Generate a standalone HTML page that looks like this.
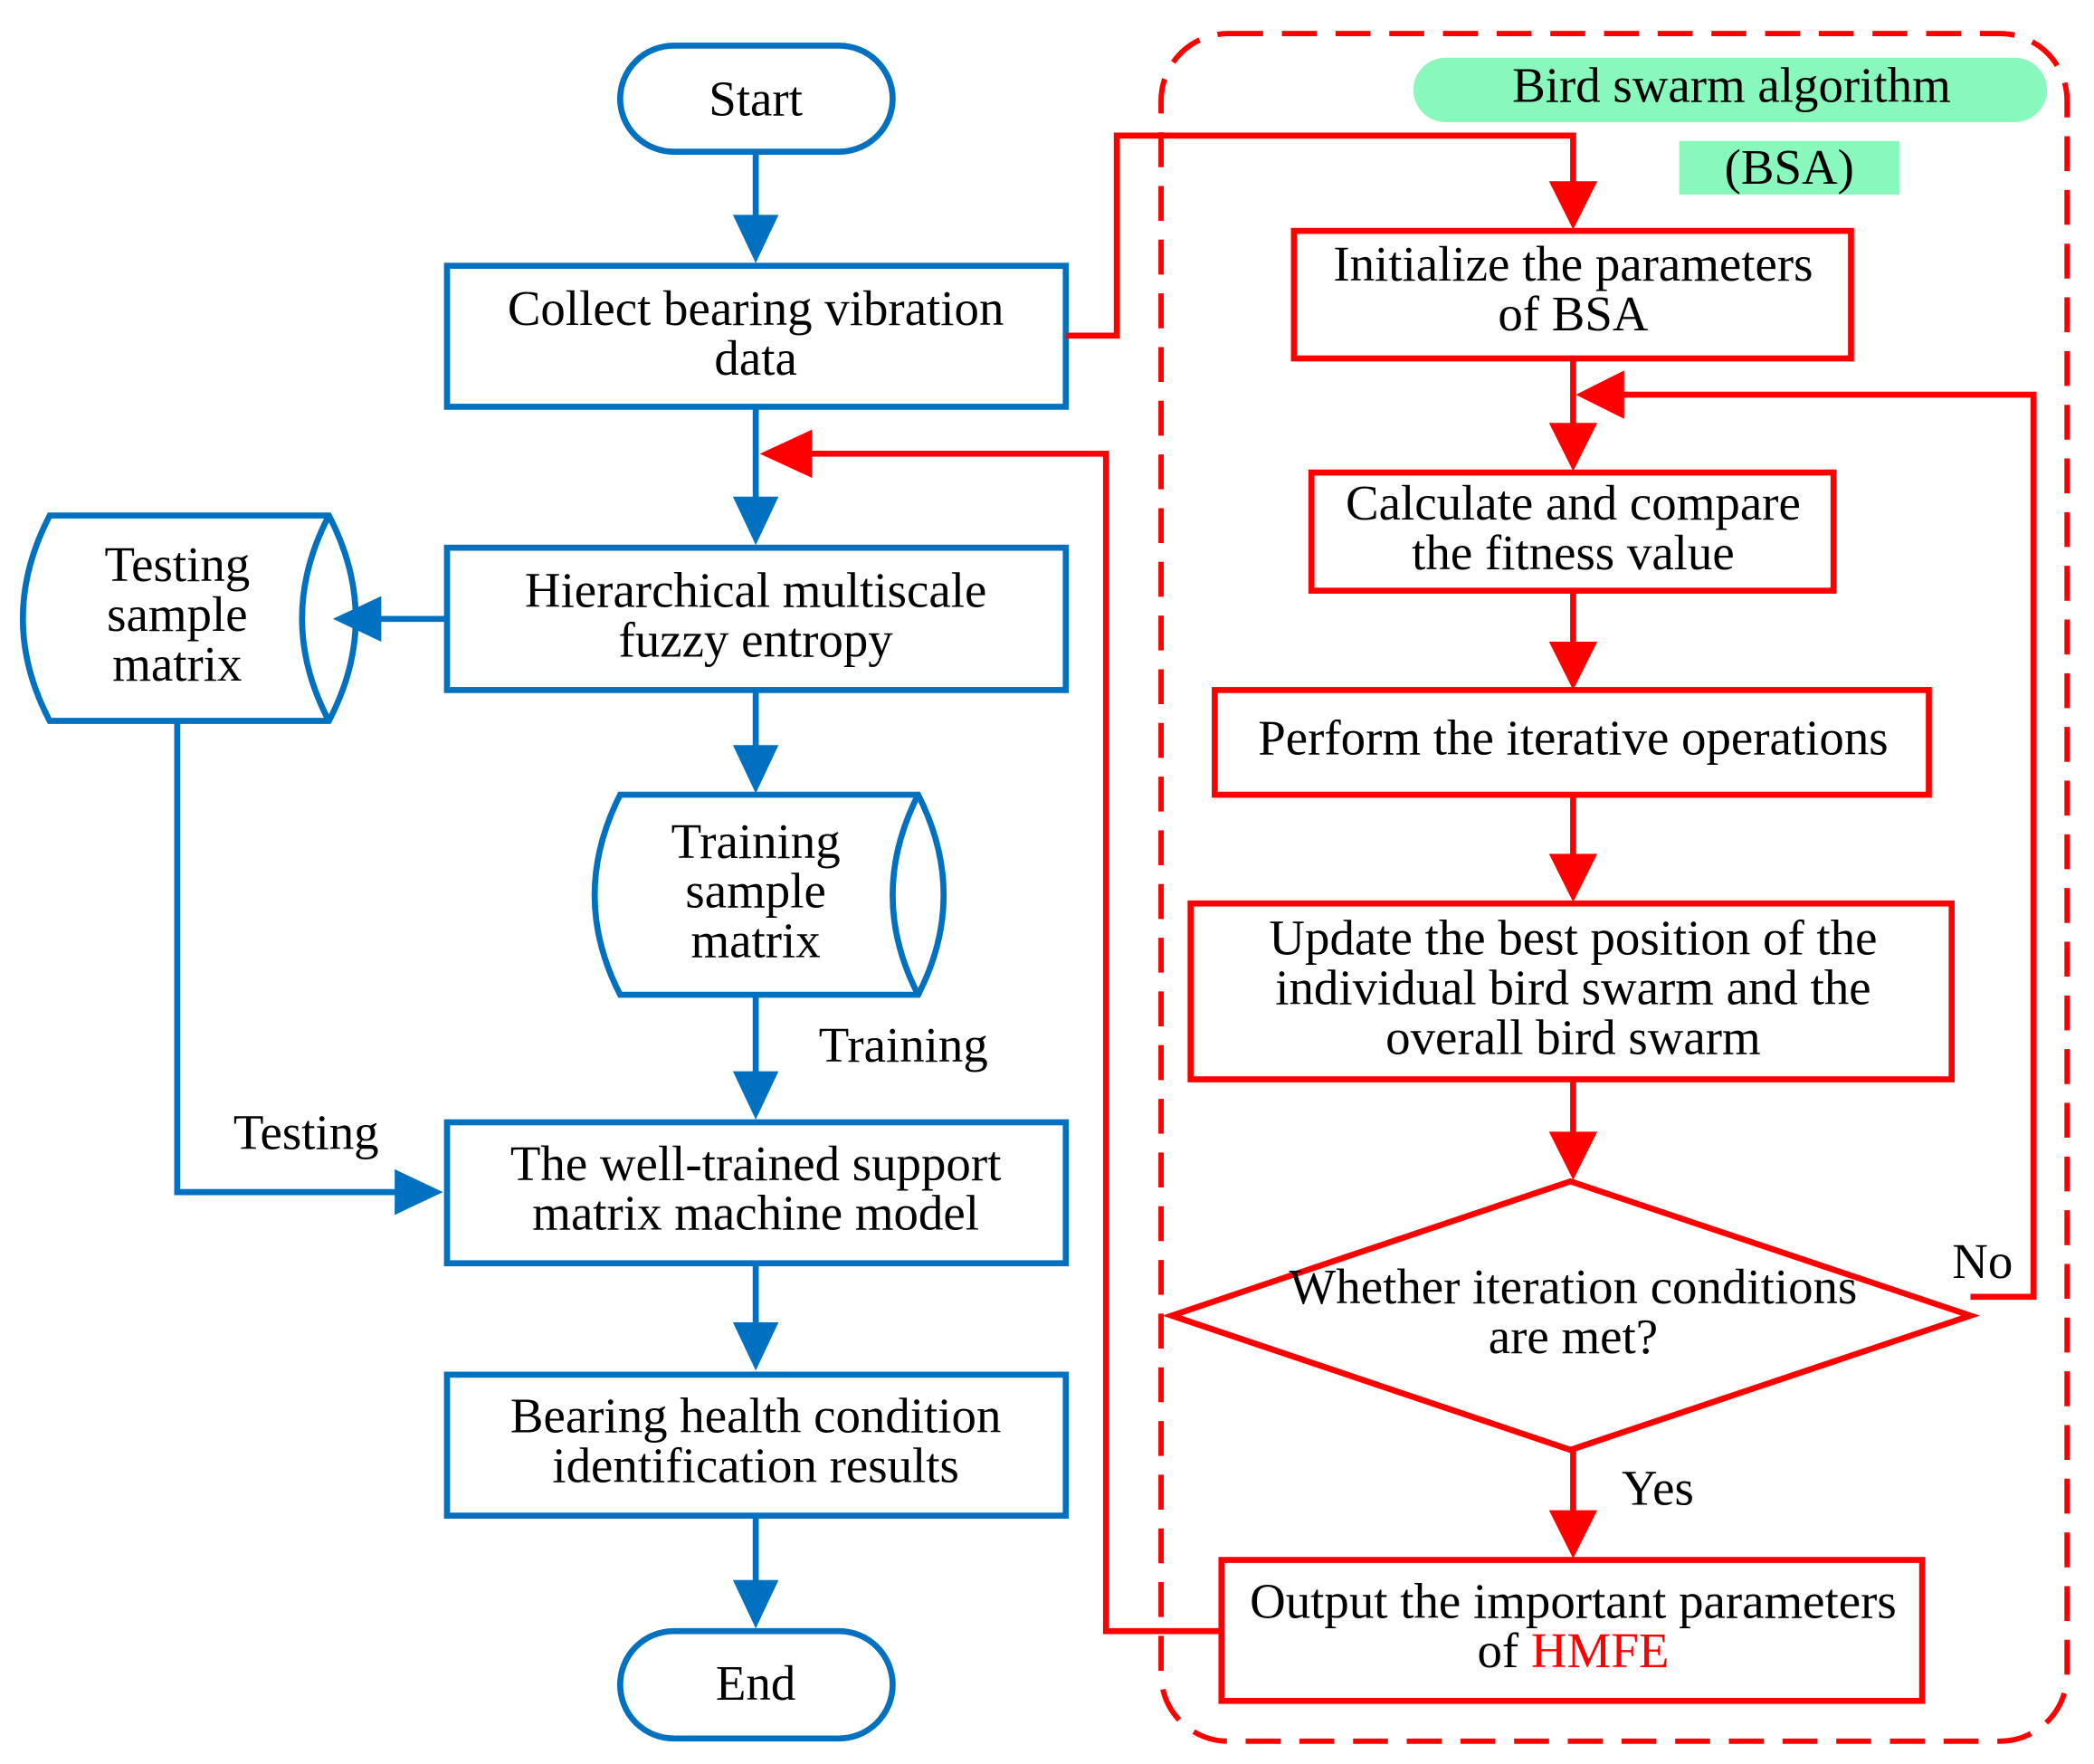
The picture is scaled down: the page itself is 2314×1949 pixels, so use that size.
<!DOCTYPE html>
<html><head><meta charset="utf-8"><style>
html,body{margin:0;padding:0;background:#fff}
svg{display:block}
text{font-family:"Liberation Serif",serif;font-size:37px;fill:#000;text-anchor:middle}
</style></head><body>
<svg width="2314" height="1949" viewBox="0 0 1560 1314" xmlns="http://www.w3.org/2000/svg">
<g fill="none" stroke="#0070C0" stroke-width="4.5">
<rect x="462" y="34" width="203" height="79" rx="40"/>
<rect x="333" y="198" width="461" height="105"/>
<rect x="333" y="408" width="461" height="106"/>
<rect x="333" y="836" width="461" height="105"/>
<rect x="333" y="1024" width="461" height="105"/>
<rect x="462" y="1215" width="203" height="80" rx="40"/>
<path d="M37,384 L245,384 Q285,461 245,537 L37,537 Q-3,461 37,384 Z M245,384 Q205,461 245,537"/>
<path d="M462,592 L684,592 Q722,667 684,741 L462,741 Q424,667 462,592 Z M684,592 Q646,667 684,741"/>
<path d="M563,113 V165 M563,303 V375 M333,461 H280 M563,514 V560 M563,741 V803 M132,537 V888 H298 M563,941 V990 M563,1129 V1182"/>
</g>
<g fill="#0070C0">
<path d="M546,160 L580,160 L563,196 Z"/>
<path d="M546,370 L580,370 L563,406 Z"/>
<path d="M284,444 L284,478 L248,461 Z"/>
<path d="M546,555 L580,555 L563,591 Z"/>
<path d="M546,798 L580,798 L563,834 Z"/>
<path d="M294,871 L294,905 L330,888 Z"/>
<path d="M546,985 L580,985 L563,1021 Z"/>
<path d="M546,1177 L580,1177 L563,1213 Z"/>
</g>
<rect x="865" y="25" width="675" height="1272" rx="50" fill="none" stroke="#FF0000" stroke-width="4" stroke-dasharray="26,14"/>
<rect x="1053" y="43" width="472" height="48" rx="24" fill="#88F8BC"/>
<rect x="1251" y="105" width="164" height="40" fill="#88F8BC"/>
<g fill="none" stroke="#FF0000" stroke-width="4.5">
<rect x="964" y="172" width="415" height="95"/>
<rect x="977" y="352" width="389" height="88"/>
<rect x="905" y="514" width="532" height="78"/>
<rect x="887" y="673" width="567" height="131"/>
<path d="M1170,880 L1468,980 L1170,1080 L873,980 Z"/>
<rect x="910" y="1162" width="522" height="105"/>
<path d="M794,250 H832 V101 H1172 V140 M1172,267 V320 M1468,966 H1515 V294 H1205 M1172,440 V483 M1172,592 V641 M1172,804 V848 M1172,1080 V1130 M910,1215 H824 V338 H600"/>
</g>
<g fill="#FF0000">
<path d="M1154,135 L1190,135 L1172,171 Z"/>
<path d="M1154,315 L1190,315 L1172,351 Z"/>
<path d="M1210,276 L1210,312 L1174,294 Z"/>
<path d="M1154,478 L1190,478 L1172,514 Z"/>
<path d="M1154,636 L1190,636 L1172,672 Z"/>
<path d="M1154,843 L1190,843 L1172,879 Z"/>
<path d="M1154,1125 L1190,1125 L1172,1161 Z"/>
<path d="M605,320 L605,356 L566,338 Z"/>
</g>
<text x="563" y="86">Start</text>
<text x="563" y="242">Collect bearing vibration</text>
<text x="563" y="279">data</text>
<text x="563" y="452">Hierarchical multiscale</text>
<text x="563" y="489">fuzzy entropy</text>
<text x="132" y="433">Testing</text>
<text x="132" y="470">sample</text>
<text x="132" y="507">matrix</text>
<text x="563" y="639">Training</text>
<text x="563" y="676">sample</text>
<text x="563" y="713">matrix</text>
<text x="673" y="791">Training</text>
<text x="228" y="856">Testing</text>
<text x="563" y="879">The well-trained support</text>
<text x="563" y="916">matrix machine model</text>
<text x="563" y="1067">Bearing health condition</text>
<text x="563" y="1104">identification results</text>
<text x="563" y="1266">End</text>
<text x="1290" y="76">Bird swarm algorithm</text>
<text x="1333" y="137">(BSA)</text>
<text x="1172" y="209">Initialize the parameters</text>
<text x="1172" y="246">of BSA</text>
<text x="1172" y="387">Calculate and compare</text>
<text x="1172" y="424">the fitness value</text>
<text x="1172" y="562">Perform the iterative operations</text>
<text x="1172" y="711">Update the best position of the</text>
<text x="1172" y="748">individual bird swarm and the</text>
<text x="1172" y="785">overall bird swarm</text>
<text x="1172" y="971">Whether iteration conditions</text>
<text x="1172" y="1008">are met?</text>
<text x="1477" y="952">No</text>
<text x="1235" y="1121">Yes</text>
<text x="1172" y="1205">Output the important parameters</text>
<text x="1172" y="1242">of <tspan fill="#FF0000">HMFE</tspan></text>
</svg>
</body></html>
